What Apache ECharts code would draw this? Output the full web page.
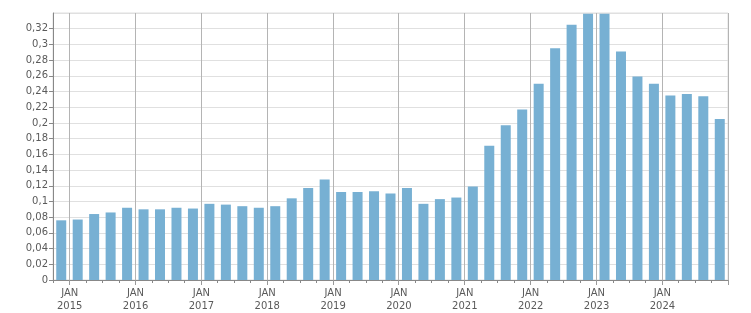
<!DOCTYPE html>
<html>
<head>
<meta charset="utf-8">
<script src="https://cdn.jsdelivr.net/npm/echarts@6/dist/echarts.min.js"></script>
<style>html,body{margin:0;padding:0;background:#fff}#c{width:751px;height:313px}</style>
</head>
<body>
<div id="c"></div>
<script>
const categories = ['2014-12',
  '2015-03','2015-06','2015-09','2015-12',
  '2016-03','2016-06','2016-09','2016-12',
  '2017-03','2017-06','2017-09','2017-12',
  '2018-03','2018-06','2018-09','2018-12',
  '2019-03','2019-06','2019-09','2019-12',
  '2020-03','2020-06','2020-09','2020-12',
  '2021-03','2021-06','2021-09','2021-12',
  '2022-03','2022-06','2022-09','2022-12',
  '2023-03','2023-06','2023-09','2023-12',
  '2024-03','2024-06','2024-09','2024-12'];
const values = [0.076,
  0.077,0.084,0.086,0.092,
  0.090,0.090,0.092,0.091,
  0.097,0.096,0.094,0.092,
  0.094,0.104,0.117,0.128,
  0.112,0.112,0.113,0.110,
  0.117,0.097,0.103,0.105,
  0.119,0.171,0.197,0.217,
  0.250,0.295,0.325,0.339,
  0.339,0.291,0.259,0.250,
  0.235,0.237,0.234,0.205];
const monthLabel = 'JAN';
const yTickMin = 0, yTickMax = 0.34, yTickStep = 0.02;

const isYearStart = (i) => i % 4 === 1;
const font = {fontFamily: 'DejaVu Sans', fontSize: 10, color: '#5a5a5a'};
const chart = echarts.init(document.getElementById('c'), null, {renderer: 'canvas'});
chart.setOption({
  animation: false,
  grid: {left: 53, right: 23, top: 13, bottom: 32, show: true, borderColor: '#dedede', borderWidth: 1, containLabel: false},
  xAxis: [{
    type: 'category',
    data: categories,
    boundaryGap: true,
    axisLine: {lineStyle: {color: '#888', width: 1}},
    axisTick: {show: true, interval: 0, length: 3, lineStyle: {color: '#888'}},
    axisLabel: Object.assign({}, font, {
      interval: (i) => isYearStart(i),
      formatter: (v, i) => monthLabel + '\n' + v.slice(0, 4),
      lineHeight: 13,
      margin: 7,
      padding: [0, 16, 0, 0],
      align: 'center',
      hideOverlap: false
    }),
    splitLine: {show: true, interval: (i) => isYearStart(i), lineStyle: {color: '#b4b4b4', width: 1}}
  }, {
    type: 'category',
    data: categories,
    position: 'bottom',
    boundaryGap: true,
    axisLine: {show: false},
    axisTick: {show: true, interval: (i) => isYearStart(i), length: 5, lineStyle: {color: '#999'}},
    axisLabel: {show: false},
    splitLine: {show: false}
  }],
  yAxis: {
    type: 'value',
    min: yTickMin, max: yTickMax, interval: yTickStep,
    axisLine: {show: true, lineStyle: {color: '#888', width: 1}},
    axisTick: {show: true, length: 4, lineStyle: {color: '#888'}},
    axisLabel: Object.assign({}, font, {
      margin: 5,
      showMaxLabel: false,
      formatter: (v) => String(+v.toFixed(4)).replace('.', ',')
    }),
    splitLine: {show: true, lineStyle: {color: '#e0e0e0', width: 1}}
  },
  series: [{
    type: 'bar',
    xAxisIndex: 0,
    data: values,
    barWidth: 10,
    itemStyle: {color: '#77b0d3'},
    silent: true
  }]
});
</script>
</body>
</html>
